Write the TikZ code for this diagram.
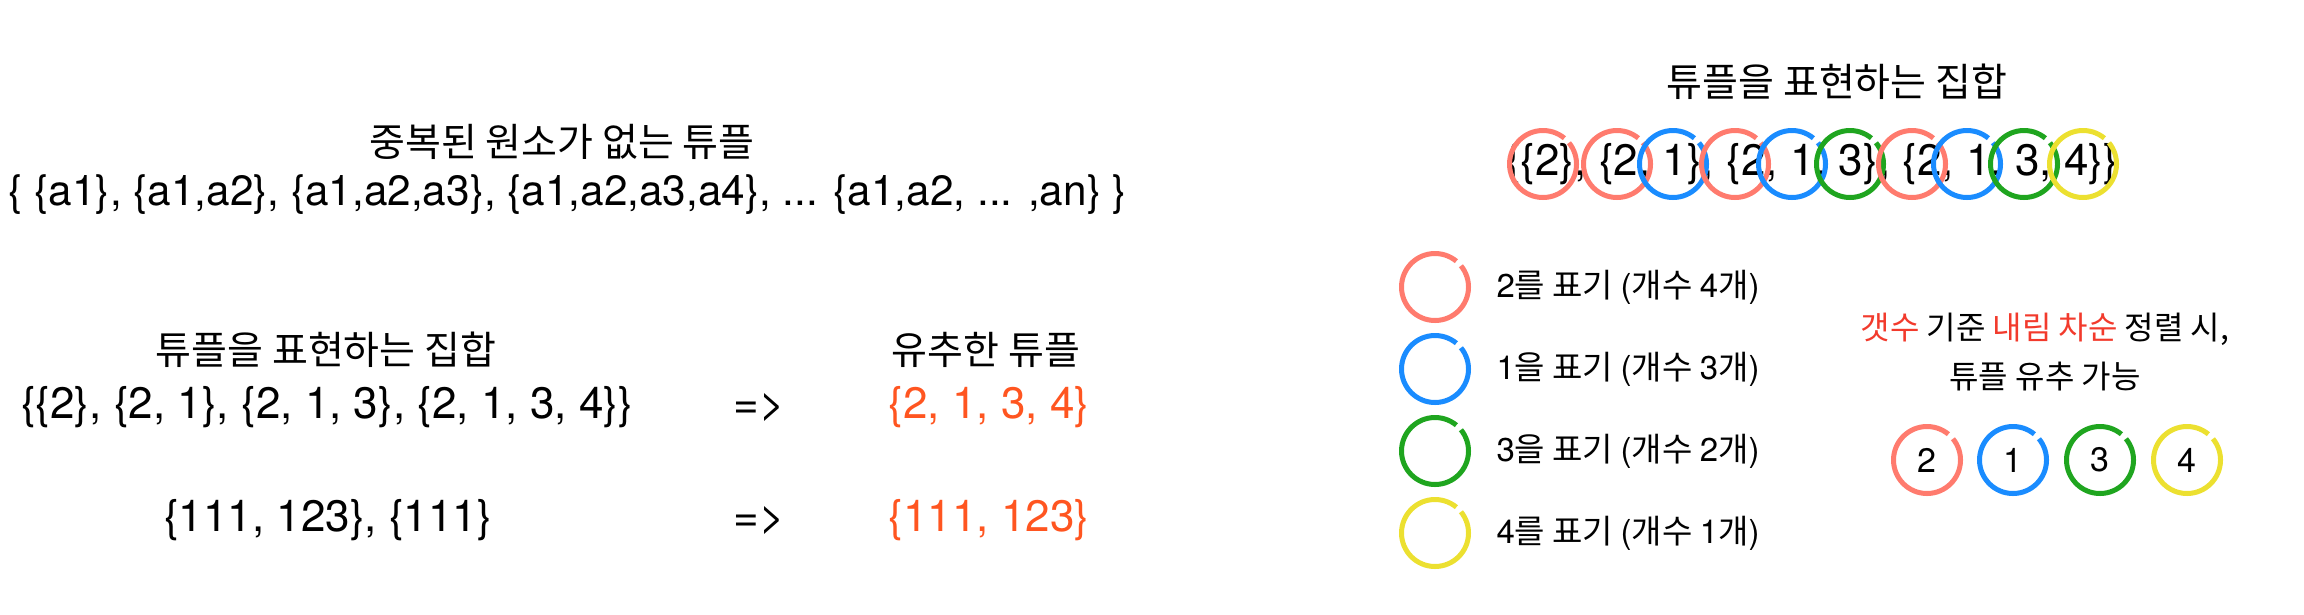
\documentclass[tikz,border=0pt]{standalone}
\usepackage{fontspec}
\setmainfont{Noto Sans CJK KR}
\newfontfamily\hv{TeX Gyre Heros}
\usetikzlibrary{positioning}
\definecolor{ringred}{HTML}{FF7B6E}
\definecolor{ringblue}{HTML}{1A8CFF}
\definecolor{ringgreen}{HTML}{1FA51F}
\definecolor{ringyellow}{HTML}{ECE030}
\definecolor{guessorng}{HTML}{FF5520}
\definecolor{hilitered}{HTML}{F23A2C}

\begin{document}
\begin{tikzpicture}[
    x=1pt, y=-1pt,
    every node/.style={inner sep=0pt, outer sep=0pt},
    title/.style={font=\fontsize{39}{42}\selectfont},
    setline/.style={font=\hv\fontsize{44}{48}\selectfont},
    keytext/.style={font=\fontsize{33}{36}\selectfont},
    ring/.style={
      circle, draw=#1, line width=5pt, minimum size=67pt,
      dash pattern=on 23pt off 6.5pt on 200pt
    },
    digit/.style={font=\hv\fontsize{34}{36}\selectfont},
  ]
  \useasboundingbox (0,0) rectangle (2304,614);

  % ============ Top: tuple without duplicates ============
  \node[title]   (nodup)    at (562,142) {중복된 원소가 없는 튜플};
  \node[setline, font=\hv\fontsize{42.3}{46}\selectfont] (nodupset) at (568,195)
    {\{ \{a1\}, \{a1,a2\}, \{a1,a2,a3\}, \{a1,a2,a3,a4\}, ... \{a1,a2, ... ,an\} \}};

  % ============ Left: set -> guessed tuple ============
  \node[title]   (settitle)   at (326,350) {튜플을 표현하는 집합};
  \node[title]   (guesstitle) at (986,350) {유추한 튜플};

  \node[setline] (set1)   at (327,407) {\{\{2\}, \{2, 1\}, \{2, 1, 3\}, \{2, 1, 3, 4\}\}};
  \node[setline] (to1)    at (759,407) {=>};
  \node[setline, text=guessorng] (guess1) at (989,407) {\{2, 1, 3, 4\}};

  \node[setline] (set2)   at (328,520) {\{111, 123\}, \{111\}};
  \node[setline] (to2)    at (759,520) {=>};
  \node[setline, text=guessorng] (guess2) at (989,520) {\{111, 123\}};

  % ============ Right: circled set ============
  \node[title]   (rowtitle) at (1837,82) {튜플을 표현하는 집합};
  \node[setline] (row)      at (1812,164) {\{\{2\}, \{2, 1\}, \{2, 1, 3\}, \{2, 1, 3, 4\}\}};
  \foreach \clr/\x [count=\i] in {ringred/1543, ringred/1617, ringblue/1673,
      ringred/1735, ringblue/1792, ringgreen/1850, ringred/1912, ringblue/1967,
      ringgreen/2024, ringyellow/2083}
    \node[ring=\clr] (mark\i) at (\x,164) {};

  % ============ Legend ============
  \foreach \clr/\val/\josa/\cnt [count=\i] in {ringred/2/를/4, ringblue/1/을/3,
      ringgreen/3/을/2, ringyellow/4/를/1} {
    \node[ring=\clr] (key\i) at (1435,205+82*\i) {};
    \node[keytext, right=28pt of key\i] (keylabel\i)
      {{\hv\val}\josa{} 표기 {\hv(}개수 {\hv\cnt}개{\hv)}};
  }

  % ============ Sorting note + result ============
  \node[keytext, font=\fontsize{32}{49}\selectfont, align=center] (note) at (2045,352)
    {{\color{hilitered}갯수} 기준 {\color{hilitered}내림 차순} 정렬 시,\\튜플 유추 가능};
  \foreach \clr/\val/\x in {ringred/2/1927, ringblue/1/2013, ringgreen/3/2100,
      ringyellow/4/2187}
    \node[ring=\clr, digit] (res\val) at (\x,460) {\val};

\end{tikzpicture}
\end{document}
